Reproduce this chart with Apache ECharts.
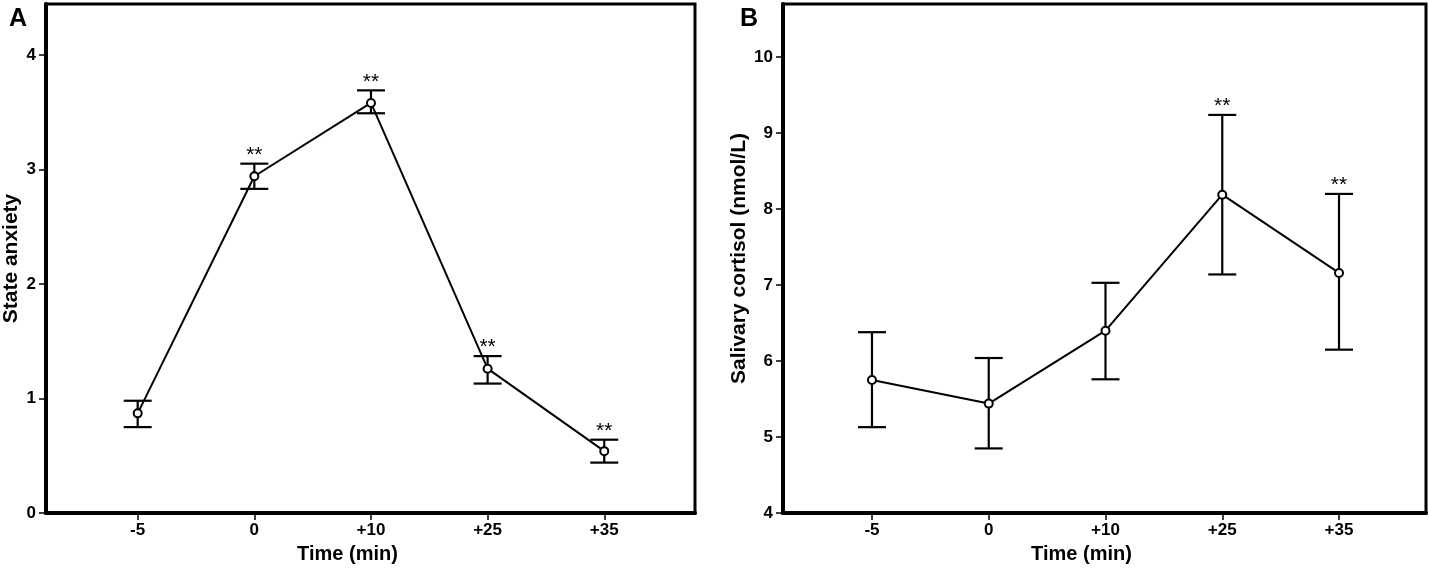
<!DOCTYPE html>
<html>
<head>
<meta charset="utf-8">
<script src="https://cdn.jsdelivr.net/npm/echarts@6/dist/echarts.min.js"></script>
<style>
  html, body { margin: 0; padding: 0; background: #fff; }
  #chart { width: 1429px; height: 569px; }
</style>
</head>
<body>
<div id="chart"></div>
<script>
// datos
const tiempos = ['-5', '0', '+10', '+25', '+35'];

const ansiedad = [0.87, 2.94, 3.58, 1.26, 0.54];
const ansiedadSup = [0.98, 3.05, 3.69, 1.37, 0.64];
const ansiedadInf = [0.75, 2.83, 3.49, 1.13, 0.44];
const ansiedadSig = ['', '**', '**', '**', '**'];

const cortisol = [5.75, 5.44, 6.40, 8.19, 7.16];
const cortisolSup = [6.38, 6.04, 7.03, 9.24, 8.20];
const cortisolInf = [5.13, 4.85, 5.76, 7.14, 6.15];
const cortisolSig = ['', '', '', '**', '**'];

const ticksA = [0, 1, 2, 3, 4];
const ticksB = [4, 5, 6, 7, 8, 9, 10];

const FUENTE = 'Liberation Sans Narrow, Liberation Sans, Arial, sans-serif';
const FUENTE_ANCHA = 'Liberation Sans, Arial, sans-serif';

const chart = echarts.init(document.getElementById('chart'));

function ejeX(gridIndex, min, max) {
    return {
        type: 'value', gridIndex, min, max,
        name: 'Time (min)', nameLocation: 'middle', nameGap: 31,
        nameTextStyle: { fontFamily: FUENTE, fontWeight: 'bold', fontSize: 20, color: '#000', padding: [0, 46, 0, 0] },
        axisLine: { show: true, onZero: false, lineStyle: { color: '#000', width: 4 } },
        axisTick: { show: true, length: 7, customValues: [0, 1, 2, 3, 4], lineStyle: { color: '#000', width: 1.5 } },
        axisLabel: {
            customValues: [0, 1, 2, 3, 4], margin: 9,
            fontFamily: FUENTE, fontWeight: 'bold', fontSize: 17, color: '#000',
            formatter: v => tiempos[Math.round(v)] || ''
        },
        splitLine: { show: false }
    };
}

function ejeY(gridIndex, min, max, ticks, nombre, gap) {
    return {
        type: 'value', gridIndex, min, max,
        name: nombre, nameLocation: 'middle', nameGap: gap,
        nameTextStyle: { fontFamily: FUENTE_ANCHA, fontWeight: 'bold', fontSize: 21, color: '#000' },
        axisLine: { show: true, onZero: false, lineStyle: { color: '#000', width: 4 } },
        axisTick: { show: true, length: 7, customValues: ticks, lineStyle: { color: '#000', width: 1.5 } },
        axisLabel: {
            customValues: ticks, margin: 10,
            fontFamily: FUENTE, fontWeight: 'bold', fontSize: 17, color: '#000'
        },
        splitLine: { show: false }
    };
}

function barrasError(xi, yi, sup, inf, sig) {
    return {
        type: 'custom', xAxisIndex: xi, yAxisIndex: yi, z: 3,
        data: sup.map((s, i) => [i, inf[i], s]),
        renderItem: (params, api) => {
            const arriba = api.coord([api.value(0), api.value(2)]);
            const abajo = api.coord([api.value(0), api.value(1)]);
            const w = 14;
            const estilo = { stroke: '#000', lineWidth: 2.2 };
            const hijos = [
                { type: 'line', shape: { x1: arriba[0], y1: arriba[1], x2: abajo[0], y2: abajo[1] }, style: estilo },
                { type: 'line', shape: { x1: arriba[0] - w, y1: arriba[1], x2: arriba[0] + w, y2: arriba[1] }, style: estilo },
                { type: 'line', shape: { x1: abajo[0] - w, y1: abajo[1], x2: abajo[0] + w, y2: abajo[1] }, style: estilo }
            ];
            const s = sig[params.dataIndex];
            if (s) {
                hijos.push({
                    type: 'text',
                    style: { x: arriba[0], y: arriba[1] + 2, text: s, align: 'center', verticalAlign: 'bottom',
                        fontFamily: FUENTE_ANCHA, fontSize: 21, fill: '#000' }
                });
            }
            return { type: 'group', children: hijos };
        }
    };
}

function linea(xi, yi, valores) {
    return {
        type: 'line', xAxisIndex: xi, yAxisIndex: yi, z: 4,
        data: valores.map((v, i) => [i, v]),
        symbol: 'emptyCircle', symbolSize: 8,
        lineStyle: { color: '#000', width: 2 },
        itemStyle: { color: '#000', borderColor: '#000', borderWidth: 1.5 },
        emphasis: { disabled: true }
    };
}

chart.setOption({
    animation: false,
    title: [
        { text: 'A', left: 4, top: 2, textStyle: { fontFamily: FUENTE_ANCHA, fontWeight: 'bold', fontSize: 25, color: '#000' } },
        { text: 'B', left: 735, top: 2, textStyle: { fontFamily: FUENTE_ANCHA, fontWeight: 'bold', fontSize: 25, color: '#000' } }
    ],
    grid: [
        { left: 44, top: 4, width: 651, height: 510, show: true, borderColor: '#000', borderWidth: 3 },
        { left: 783, top: 4, width: 643, height: 510, show: true, borderColor: '#000', borderWidth: 3 }
    ],
    xAxis: [ejeX(0, -0.786, 4.778), ejeX(1, -0.762, 4.745)],
    yAxis: [
        ejeY(0, 0, 4.444, ticksA, 'State anxiety', 24),
        ejeY(1, 4, 10.70, ticksB, 'Salivary cortisol (nmol/L)', 33)
    ],
    series: [
        barrasError(0, 0, ansiedadSup, ansiedadInf, ansiedadSig),
        linea(0, 0, ansiedad),
        barrasError(1, 1, cortisolSup, cortisolInf, cortisolSig),
        linea(1, 1, cortisol)
    ]
});

window.addEventListener('resize', () => chart.resize());
</script>
</body>
</html>
